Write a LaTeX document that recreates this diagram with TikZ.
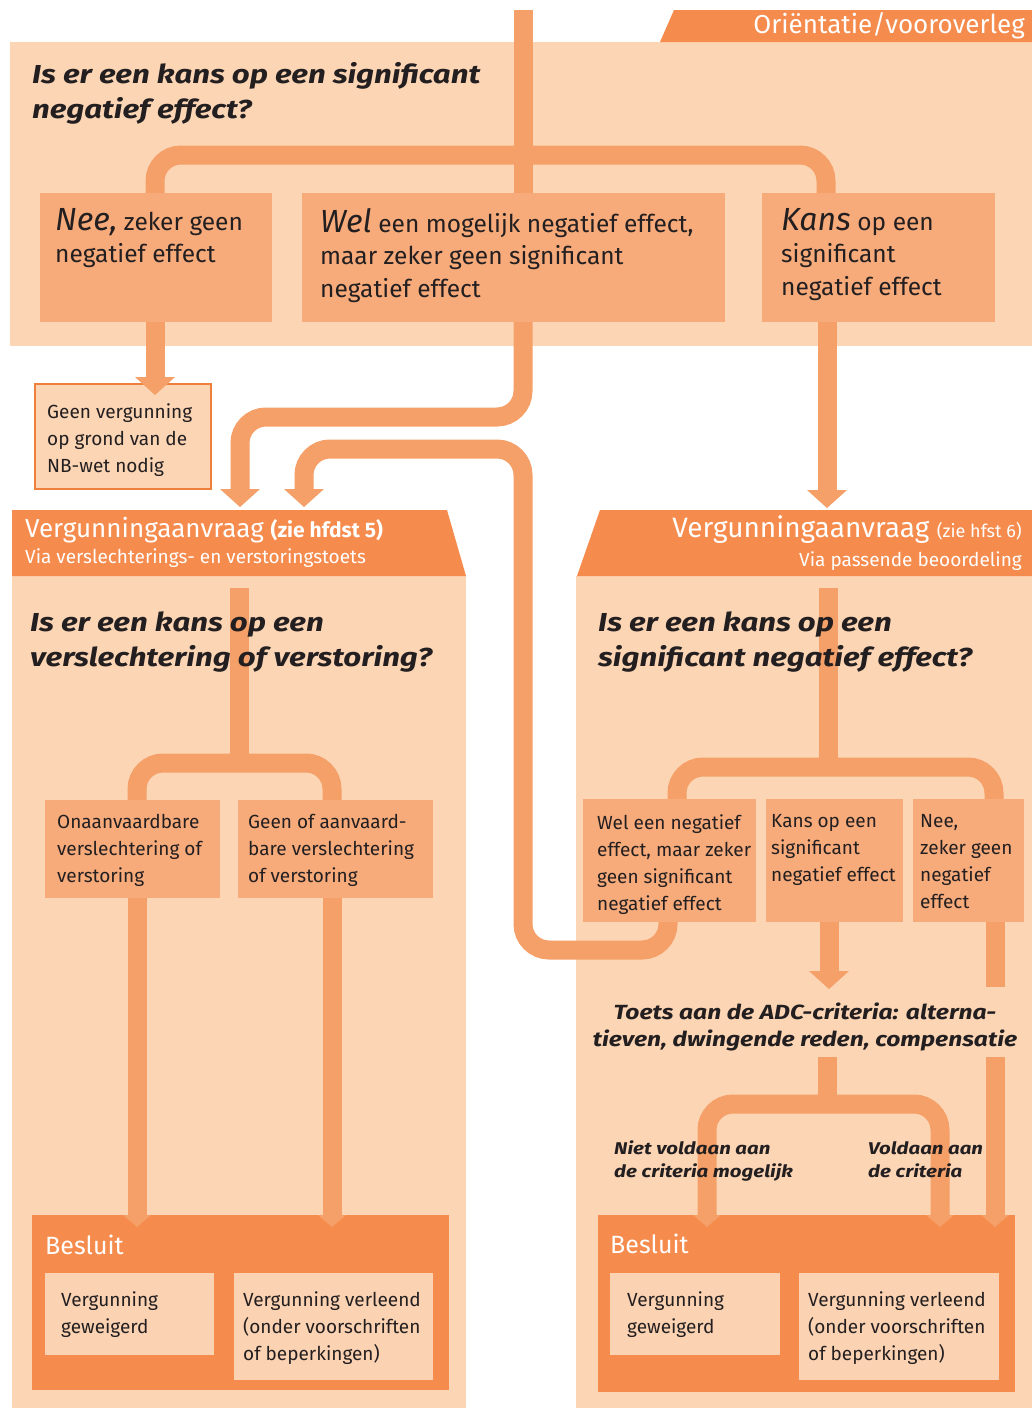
\documentclass[tikz,border=0pt]{standalone}
\usepackage{fontspec}
\setmainfont{Fira Sans}
\newfontfamily\wideff{Fira Sans}[FakeStretch=1.2]
\usetikzlibrary{arrows.meta,calc}
\definecolor{panelc}{HTML}{FCD5B5}
\definecolor{boxc}{HTML}{F7AB7B}
\definecolor{pipec}{HTML}{F5A068}
\definecolor{darkc}{HTML}{F58B4C}
\definecolor{edgec}{HTML}{EF7F3C}
\definecolor{ink}{HTML}{231F20}
\definecolor{innerc}{HTML}{FBD2B2}
\newcommand\fsz[2]{\fontsize{#1}{#2}\selectfont}
\pgfdeclarelayer{panels}
\pgfdeclarelayer{pipes}
\pgfsetlayers{panels,pipes,main}
\tikzset{
  pipe/.style={draw=pipec, line width=19pt, rounded corners=26pt, line cap=butt},
  bigtip/.style={-{Triangle[width=40pt,length=18pt,line width=0pt]}},
  smalltip/.style={-{Triangle[width=28pt,length=12pt,line width=0pt]}},
  smallboth/.style={{Triangle[width=28pt,length=12pt,line width=0pt]}-{Triangle[width=28pt,length=12pt,line width=0pt]}},
  obox/.style={fill=boxc, inner sep=0pt, outer sep=0pt, anchor=north west},
  darkbox/.style={fill=darkc, inner sep=0pt, outer sep=0pt, anchor=north west},
  innerbox/.style={fill=innerc, inner sep=0pt, outer sep=0pt, anchor=north west},
  txt/.style={inner sep=0pt, anchor=north west, align=left, text=ink, font=\fsz{19}{27}},
  toptxt/.style={inner sep=0pt, anchor=north west, align=left, text=ink, font=\fsz{24.5}{32.5}},
  qtxt/.style={inner sep=0pt, anchor=north west, align=left, text=ink, font=\wideff\fsz{26}{35}\bfseries\itshape},
  lbl/.style={inner sep=0pt, anchor=north west, align=left, text=ink, font=\wideff\fsz{17}{23}\bfseries\itshape},
  wtxt/.style={inner sep=0pt, text=white},
}
\begin{document}
\begin{tikzpicture}[x=1pt,y=-1pt]
\useasboundingbox (0,0) rectangle (1032,1408);
\begin{pgfonlayer}{panels}
  \fill[white] (0,0) rectangle (1032,1408);
  \fill[panelc] (10,42) rectangle (1032,346);
  \fill[darkc] (674,10) -- (1032,10) -- (1032,42) -- (660,42) -- cycle;
  \fill[panelc] (12,576) rectangle (466,1408);
  \fill[darkc] (12,510) -- (447,510) -- (466,576) -- (12,576) -- cycle;
  \fill[panelc] (576,576) rectangle (1032,1408);
  \fill[darkc] (600,510) -- (1032,510) -- (1032,576) -- (577,576) -- cycle;
\end{pgfonlayer}

% coordinates (free ends)
\coordinate (topin) at (523,10);
\coordinate (hdrLin1) at (240,507);
\coordinate (hdrLin2) at (304,507);
\coordinate (hdrRin) at (827,508);
\coordinate (qLin) at (239,588);
\coordinate (qRin) at (828,588);
\coordinate (adcIn) at (829,989);
\coordinate (adcOut) at (827,1057);
\coordinate (neeStop) at (995,987);
\coordinate (neeResume) at (995,1057);

% header texts
\node[wtxt, anchor=base east, font=\fsz{26}{30}] (orient) at (1025,33) {Oriëntatie/vooroverleg};
\node[wtxt, anchor=base west, font=\fsz{26}{30}] (hL1) at (25,537) {Vergunningaanvraag {\fsz{21}{24}\bfseries (zie hfdst 5)}};
\node[wtxt, anchor=base west, font=\fsz{19}{22}] (hL2) at (25,563) {Via verslechterings- en verstoringstoets};
\node[wtxt, anchor=base east, font=\fsz{28}{30}] (hR1) at (1022,537) {Vergunningaanvraag {\fsz{18}{22}(zie hfst 6)}};
\node[wtxt, anchor=base east, font=\fsz{19}{22}] (hR2) at (1022,566) {Via passende beoordeling};

% top section
\node[qtxt] (qT) at (32,62) {Is er een kans op een significant\\negatief effect?};
\node[obox, minimum width=232pt, minimum height=129pt] (nee1) at (40,193) {};
\node[obox, minimum width=423pt, minimum height=129pt] (wel1) at (302,193) {};
\node[obox, minimum width=233pt, minimum height=129pt] (kans1) at (762,193) {};
\node[toptxt] (tnee1) at (55,208) {{\fsz{32}{32.5}\itshape Nee,} zeker geen\\negatief effect};
\node[toptxt] (twel1) at (320,208) {{\fsz{32}{32.5}\itshape Wel} een mogelijk negatief effect,\\maar zeker geen significant\\negatief effect};
\node[toptxt] (tkans1) at (781,208) {{\fsz{32}{32.5}\itshape Kans} op een\\significant\\negatief effect};

\node[fill=panelc, draw=edgec, line width=2pt, inner sep=0pt, anchor=north west, minimum width=176pt, minimum height=105pt] (gv) at (34,383) {};
\node[txt] (tgv) at (47,403) {Geen vergunning\\op grond van de\\NB-wet nodig};

% left panel
\node[qtxt] (qL) at (30,612) {Is er een kans op een\\verslechtering of verstoring?};
\node[obox, minimum width=175pt, minimum height=98pt] (onv) at (45,800) {};
\node[obox, minimum width=195pt, minimum height=98pt] (gav) at (238,800) {};
\node[txt] (tonv) at (57,814) {Onaanvaardbare\\verslechtering of\\verstoring};
\node[txt] (tgav) at (248,814) {Geen of aanvaard-\\bare verslechtering\\of verstoring};

% right panel
\node[qtxt] (qR) at (598,612) {Is er een kans op een\\significant negatief effect?};
\node[obox, minimum width=173pt, minimum height=123pt] (wel2) at (583,799) {};
\node[obox, minimum width=137pt, minimum height=123pt] (kans2) at (766,799) {};
\node[obox, minimum width=111pt, minimum height=123pt] (nee2) at (913,799) {};
\node[txt] (twel2) at (597,814) {Wel een negatief\\effect, maar zeker\\geen significant\\negatief effect};
\node[txt] (tkans2) at (771,814) {Kans op een\\significant\\negatief effect};
\node[txt] (tnee2) at (920,814) {Nee,\\zeker geen\\negatief\\effect};
\node[inner sep=0pt, anchor=north, align=center, text=ink, font=\wideff\fsz{20.5}{27}\bfseries\itshape] (adc) at (805,1003) {Toets aan de ADC-criteria: alterna-\\tieven, dwingende reden, compensatie};

% pipes behind boxes
\begin{pgfonlayer}{pipes}
  \draw[pipe] (topin) -- (topin |- wel1.north);
  \draw[pipe] (155,0 |- nee1.north) -- (155,155) -- (826,155) -- (826,0 |- kans1.north);
  \draw[pipe,bigtip] (523,0 |- wel1.south) -- (523,417) -- (240,417) -- (hdrLin1);
  \draw[pipe,bigtip] (668,0 |- wel2.south) -- (668,950) -- (523,950) -- (523,449) -- (304,449) -- (hdrLin2);
  \draw[pipe,bigtip] (827,0 |- kans1.south) -- (hdrRin);
  \draw[pipe] (qLin) -- (239,763);
  \draw[pipe] (137,0 |- onv.north) -- (137,763) -- (332,763) -- (332,0 |- gav.north);
  \draw[pipe] (qRin) -- (828,767);
  \draw[pipe] (677,0 |- wel2.north) -- (677,767) -- (994,767) -- (994,0 |- nee2.north);
  \draw[pipe,bigtip] (829,0 |- kans2.south) -- (adcIn);
  \draw[pipe] (995,0 |- nee2.south) -- (neeStop);
\end{pgfonlayer}

% arrow into "Geen vergunning"
\draw[pipe,bigtip] (155,0 |- nee1.south) -- ($(155,0 |- gv.north)+(0,12)$);

% Besluit blocks
\node[darkbox, minimum width=417pt, minimum height=175pt] (besL) at (32,1215) {};
\node[darkbox, minimum width=417pt, minimum height=177pt] (besR) at (598,1215) {};

\draw[pipe,smalltip] (137,0 |- onv.south) -- ($(137,0 |- besL.north)+(0,12)$);
\draw[pipe,smalltip] (332,0 |- gav.south) -- ($(332,0 |- besL.north)+(0,12)$);
\draw[pipe] (adcOut) -- (827,1104);
\draw[pipe,smallboth] ($(707,0 |- besR.north)+(0,12)$) -- (707,1104) -- (940,1104) -- ($(940,0 |- besR.north)+(0,12)$);
\draw[pipe,smalltip] (neeResume) -- ($(995,0 |- besR.north)+(0,12)$);

\node[lbl] (nv) at (614,1141) {Niet voldaan aan\\de criteria mogelijk};
\node[lbl] (vd) at (868,1141) {Voldaan aan\\de criteria};

\node[wtxt, anchor=base west, font=\fsz{25}{28}] (tbesL) at (45,1254) {Besluit};
\node[wtxt, anchor=base west, font=\fsz{25}{28}] (tbesR) at (610,1253) {Besluit};

\node[innerbox, minimum width=169pt, minimum height=82pt] (weigL) at (45,1273) {};
\node[innerbox, minimum width=199pt, minimum height=107pt] (verlL) at (234,1273) {};
\node[innerbox, minimum width=170pt, minimum height=82pt] (weigR) at (610,1273) {};
\node[innerbox, minimum width=200pt, minimum height=107pt] (verlR) at (799,1273) {};
\node[txt] (tweigL) at (61,1291) {Vergunning\\geweigerd};
\node[txt] (tverlL) at (243,1291) {Vergunning verleend\\(onder voorschriften\\of beperkingen)};
\node[txt] (tweigR) at (627,1291) {Vergunning\\geweigerd};
\node[txt] (tverlR) at (808,1291) {Vergunning verleend\\(onder voorschriften\\of beperkingen)};
\end{tikzpicture}
\end{document}
